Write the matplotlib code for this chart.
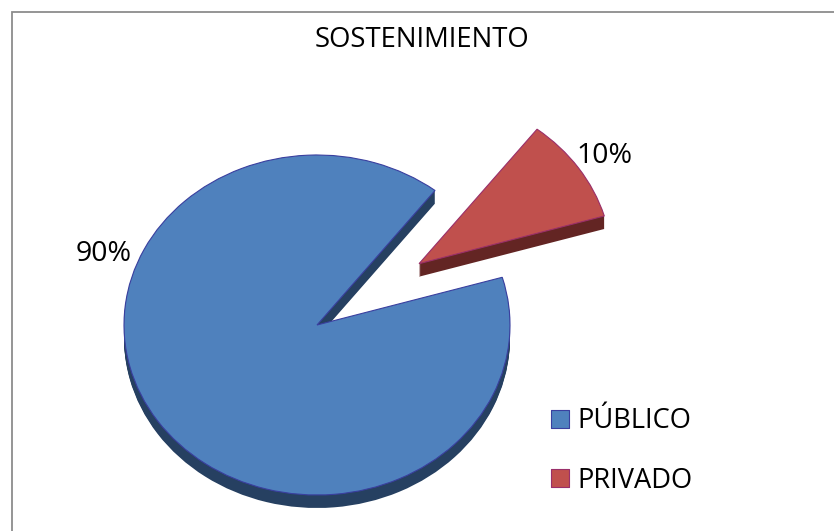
import matplotlib
matplotlib.use('Agg')
import matplotlib.pyplot as plt

labels = ['PÚBLICO', 'PRIVADO']
values = [90, 10]
pct_labels = ['90%', '10%']
top_colors = ['#4F81BD', '#C0504D']
side_colors = ['#264061', '#632523']
edge_colors = ['#3A3F9F', '#9A2F6A']

W, H = 834, 531
plt.rcParams['font.family'] = ['Open Sans', 'DejaVu Sans']

fig = plt.figure(figsize=(W / 100, H / 100), dpi=100, facecolor='white')

# pie sits in an axes stretched so the circle turns into the tilted ellipse
cx, cy, rx, ry = 317, 325, 193, 170
ax = fig.add_axes([(cx - rx * 1.5) / W, 1 - (cy + ry * 1.5) / H, rx * 3 / W, ry * 3 / H])
explode = [0, 0.64]
start = 52.3

# side walls, stacked downwards
for k in range(13, 0, -1):
    ax.pie(values, explode=explode, startangle=start, radius=1, center=(0, -k / ry),
           colors=side_colors, wedgeprops={'linewidth': 0})

wedges, _ = ax.pie(values, explode=explode, startangle=start, radius=1, colors=top_colors,
                   wedgeprops={'linewidth': 0.8})
for w, c in zip(wedges, edge_colors):
    w.set_edgecolor(c)
ax.set_aspect('auto')
ax.set_xlim(-1.5, 1.5)
ax.set_ylim(-1.5, 1.5)

# frame only shows on top and at the left, the rest is cropped off
frame = fig.add_axes([0, 0, 1, 1], facecolor='none')
frame.set_xlim(0, W)
frame.set_ylim(H, 0)
frame.axis('off')
frame.plot([12, 12, W], [H, 11.5, 11.5], color='#8C8C8C', linewidth=1.3, solid_joinstyle='miter')

frame.text(422, 40, 'SOSTENIMIENTO', fontsize=19.8, ha='center', va='center', color='black')
frame.text(104, 254, pct_labels[0], fontsize=20.5, ha='center', va='center', color='black')
frame.text(604, 156, pct_labels[1], fontsize=20.5, ha='center', va='center', color='black')

# legend drawn by hand to hold the exact spacing
for label, c, e, y in zip(labels, top_colors, edge_colors, [418.5, 478]):
    frame.scatter([560], [y], marker='s', s=150, color=c, edgecolor=e, linewidth=0.8)
    frame.text(577, y + 3, label, fontsize=19.6, ha='left', va='center', color='black')

fig.savefig('out.png', dpi=100)
